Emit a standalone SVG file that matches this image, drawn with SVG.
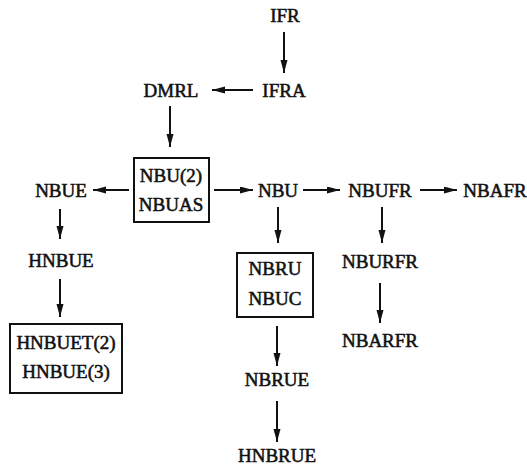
<svg xmlns="http://www.w3.org/2000/svg" width="527" height="470" viewBox="0 0 527 470">
<defs>
<marker id="ah" markerUnits="userSpaceOnUse" markerWidth="14" markerHeight="8" refX="13" refY="3.5" orient="auto">
<path d="M0,0 L13,3.5 L0,7 z" fill="#111"/>
</marker>
<style>
text{font-family:"Liberation Serif","Times New Roman",serif;font-size:19px;font-weight:normal;fill:#111;stroke:#111;stroke-width:0.55;text-anchor:middle}
.box{fill:none;stroke:#111;stroke-width:2}
#edges line{stroke:#111;stroke-width:2;marker-end:url(#ah)}
</style>
</defs>
<rect width="527" height="470" fill="#fff"/>
<g id="IFR"><text x="285" y="22">IFR</text></g>
<g id="IFRA"><text x="284" y="97">IFRA</text></g>
<g id="DMRL"><text x="171" y="97">DMRL</text></g>
<g id="NBU2"><rect class="box" x="134" y="158" width="75" height="64"/><text x="171" y="182">NBU(2)</text><text x="171" y="211">NBUAS</text></g>
<g id="NBUE"><text x="61" y="197">NBUE</text></g>
<g id="NBU"><text x="278" y="197">NBU</text></g>
<g id="NBUFR"><text x="380" y="197">NBUFR</text></g>
<g id="NBAFR"><text x="495" y="197">NBAFR</text></g>
<g id="HNBUE"><text x="61" y="267">HNBUE</text></g>
<g id="NBRU"><rect class="box" x="237" y="253" width="76" height="64"/><text x="275" y="275">NBRU</text><text x="275" y="305">NBUC</text></g>
<g id="NBURFR"><text x="380" y="268">NBURFR</text></g>
<g id="HNBUET"><rect class="box" x="10" y="324" width="112" height="69"/><text x="66" y="349">HNBUET(2)</text><text x="66" y="378">HNBUE(3)</text></g>
<g id="NBARFR"><text x="380" y="347">NBARFR</text></g>
<g id="NBRUE"><text x="277" y="386">NBRUE</text></g>
<g id="HNBRUE"><text x="277" y="462">HNBRUE</text></g>
<g id="edges">
<line x1="284" y1="32" x2="284" y2="73"/>
<line x1="253" y1="90" x2="212" y2="90"/>
<line x1="170" y1="106" x2="170" y2="147"/>
<line x1="129" y1="190" x2="93" y2="190"/>
<line x1="214" y1="190" x2="253" y2="190"/>
<line x1="303" y1="190" x2="340" y2="190"/>
<line x1="420" y1="190" x2="457" y2="190"/>
<line x1="60" y1="209" x2="60" y2="239"/>
<line x1="278" y1="207" x2="278" y2="243"/>
<line x1="382" y1="207" x2="382" y2="243"/>
<line x1="60" y1="279" x2="60" y2="317"/>
<line x1="380" y1="283" x2="380" y2="323"/>
<line x1="277" y1="326" x2="277" y2="366"/>
<line x1="277" y1="401" x2="277" y2="442"/>
</g>
</svg>
